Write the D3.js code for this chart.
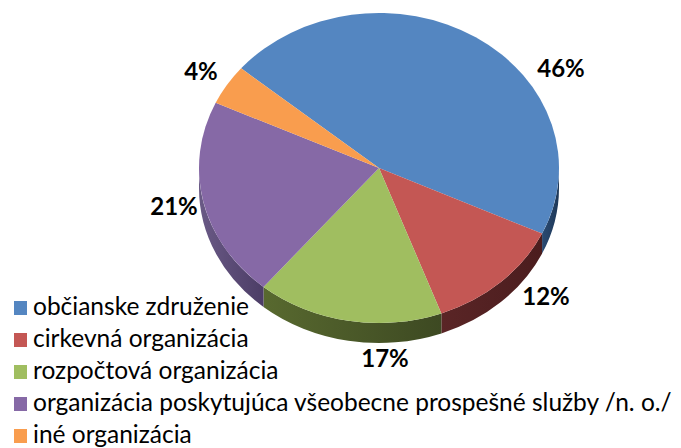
<!DOCTYPE html>
<html>
<head>
<meta charset="utf-8">
<script src="https://cdnjs.cloudflare.com/ajax/libs/d3/7.8.5/d3.min.js"></script>
<style>
  body { margin: 0; background: #fff; }
  svg { display: block; }
</style>
</head>
<body>
<svg width="681" height="448"></svg>
<script>
// data
const categories = [
  "občianske združenie",
  "cirkevná organizácia",
  "rozpočtová organizácia",
  "organizácia poskytujúca všeobecne prospešné služby /n. o./",
  "iné organizácia"
];
const shares = [45.8, 12.4, 16.7, 20.8, 4.2];

const topColors = ["#5486c1", "#c45754", "#a0be60", "#8669a6", "#f99d4e"];
const sideLeft = ["#2a4a72", "#5a2526", "#58692f", "#6a5a86", "#a8642c"];
const sideRight = ["#1e3858", "#4b1d1e", "#3d4922", "#4c3d66", "#8a5020"];

const svg = d3.select("svg");
const cx = 379, cy = 168, rx = 180, ry = 155, depth = 20;
const startAngle = -50 * Math.PI / 180; // slices start up-left, go clockwise

var total = d3.sum(shares);
var pie = d3.pie().sort(null).value(d => d)
  .startAngle(startAngle).endAngle(startAngle + 2 * Math.PI);
var arcs = pie(shares);

// angle measured from 12 o'clock clockwise
function pt(a, z) {
  return [cx + rx * Math.sin(a), cy - ry * Math.cos(a) + z];
}

var defs = svg.append("defs");
arcs.forEach(function (d, i) {
  var g = defs.append("linearGradient").attr("id", "side" + i)
    .attr("x1", "0").attr("x2", "1").attr("y1", "0").attr("y2", "0");
  g.append("stop").attr("offset", "0").attr("stop-color", sideLeft[i]);
  g.append("stop").attr("offset", "1").attr("stop-color", sideRight[i]);
});

// side walls (only the front half is visible)
var sides = svg.append("g").attr("class", "sides");
arcs.forEach(function (d, i) {
  var a0 = d.startAngle, a1 = d.endAngle;
  var s = Math.max(a0, Math.PI / 2), e = Math.min(a1, 3 * Math.PI / 2);
  if (e <= s) return;
  var p0 = pt(s, 0), p1 = pt(e, 0), p2 = pt(e, depth), p3 = pt(s, depth);
  var path = "M" + p0 + " A" + rx + "," + ry + " 0 0 1 " + p1 +
    " L" + p2 + " A" + rx + "," + ry + " 0 0 0 " + p3 + " Z";
  sides.append("path").attr("d", path).attr("fill", "url(#side" + i + ")");
});

// top faces
var tops = svg.append("g").attr("class", "tops");
tops.selectAll("path").data(arcs).join("path")
  .attr("d", function (d) {
    var p0 = pt(d.startAngle, 0), p1 = pt(d.endAngle, 0);
    var large = d.endAngle - d.startAngle > Math.PI ? 1 : 0;
    return "M" + cx + "," + cy + " L" + p0 + " A" + rx + "," + ry + " 0 " + large + " 1 " + p1 + " Z";
  })
  .attr("fill", (d, i) => topColors[i]);

// percentage labels, placed just outside the rim
var labelPos = [[561, 77], [546, 305], [385, 367], [174, 215], [201, 80]];
svg.append("g").selectAll("text").data(arcs).join("text")
  .attr("x", (d, i) => labelPos[i][0])
  .attr("y", (d, i) => labelPos[i][1])
  .attr("text-anchor", "middle")
  .attr("font-family", "Lato, 'Open Sans', sans-serif")
  .attr("font-weight", "bold")
  .attr("font-size", 24)
  .attr("fill", "#000")
  .text(d => Math.round(d.data / total * 100) + "%");

// legend
var legend = svg.append("g").attr("class", "legend");
var rows = legend.selectAll("g").data(categories).join("g")
  .attr("transform", (d, i) => "translate(0," + (315 + i * 32) + ")");
rows.append("rect")
  .attr("x", 14).attr("y", -14).attr("width", 13).attr("height", 14)
  .attr("fill", (d, i) => topColors[i]);
rows.append("text")
  .attr("x", 33).attr("y", 0)
  .attr("font-family", "Lato, 'Open Sans', sans-serif")
  .attr("font-size", 24.5)
  .attr("fill", "#000")
  .text(d => d);
</script>
</body>
</html>
